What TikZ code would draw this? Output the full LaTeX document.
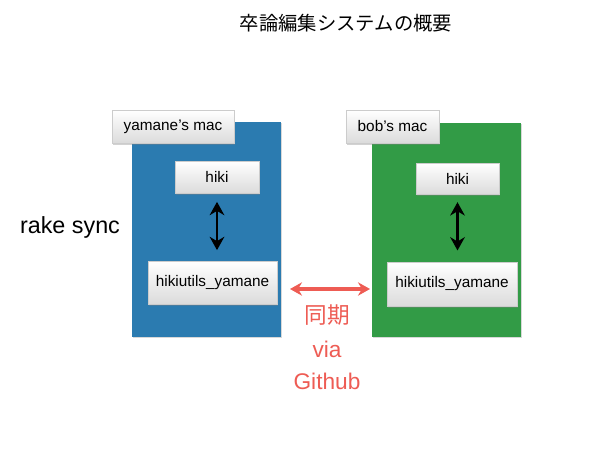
\documentclass[tikz,border=0pt]{standalone}
\usepackage{fontspec}
\setmainfont{Liberation Sans}
\newfontfamily\cjk{Noto Sans CJK JP}
\usetikzlibrary{arrows.meta,shadows,positioning}
\definecolor{macblue}{RGB}{43,123,176}
\definecolor{macgreen}{RGB}{50,155,70}
\definecolor{syncred}{RGB}{238,92,84}
\tikzset{
  panel/.style={draw=none,anchor=north west,inner sep=0pt},
  tag/.style={draw=gray!40,line width=0.3pt,top color=white,bottom color=gray!28,
    drop shadow={shadow xshift=1pt,shadow yshift=-1.2pt,opacity=0.35},
    inner sep=0pt,font=\fontsize{11.5}{13}\selectfont},
  blackarrow/.style={line width=2.2pt,{Stealth[length=10pt,width=11pt]}-{Stealth[length=10pt,width=11pt]}},
  redarrow/.style={syncred,line width=2.4pt,{Stealth[length=9pt,width=10pt]}-{Stealth[length=9pt,width=10pt]}},
  redtext/.style={text=syncred,font=\fontsize{17}{20}\selectfont}
}
\begin{document}
\begin{tikzpicture}[x=0.75pt,y=-0.75pt]
\useasboundingbox (0,0) rectangle (614,461);
\fill[white] (0,0) rectangle (614,461);

\node (title) at (346,23) {\cjk\fontsize{14.5}{17}\selectfont 卒論編集システムの概要};
\node (rake) at (70,227) {\fontsize{17.5}{20}\selectfont rake sync};

% panels
\node[panel,fill=macblue,minimum width=111.75pt,minimum height=161.25pt,
  drop shadow={shadow xshift=0.6pt,shadow yshift=-0.8pt,opacity=0.3}] (blue) at (132,122) {};
\node[panel,fill=macgreen,minimum width=111.75pt,minimum height=160.5pt,
  drop shadow={shadow xshift=0.6pt,shadow yshift=-0.8pt,opacity=0.3}] (green) at (372,123) {};

% labels
\node[tag,minimum width=91.5pt,minimum height=24.75pt] (ylab) at (173,126.5) {yamane’s mac};
\node[tag,minimum width=69.75pt,minimum height=24.75pt] (blab) at (392.5,126.5) {bob’s mac};

\node[tag,minimum width=63pt,minimum height=24pt] (hikiL) at (217,177) {hiki};
\node[tag,minimum width=96.75pt,minimum height=32.25pt] (utilL) at (212.5,282.5) {hikiutils\_yamane};
\node[tag,minimum width=62.25pt,minimum height=23.25pt] (hikiR) at (457.5,178.5) {hiki};
\node[tag,minimum width=97.5pt,minimum height=33pt] (utilR) at (452,284) {hikiutils\_yamane};

\draw[blackarrow,shorten <=6.5pt,shorten >=8pt] (hikiL.south) -- (hikiL.south |- utilL.north);
\draw[blackarrow,shorten <=6pt,shorten >=8.5pt] (hikiR.south) -- (hikiR.south |- utilR.north);

% sync
\coordinate (sA) at (290,289);
\coordinate (sB) at (370,289);
\draw[redarrow] (sA) -- (sB);
\node[redtext] (t1) at (327,315) {\cjk 同期};
\node[redtext] (t2) at (327,349) {via};
\node[redtext] (t3) at (327,381) {Github};
\end{tikzpicture}
\end{document}
